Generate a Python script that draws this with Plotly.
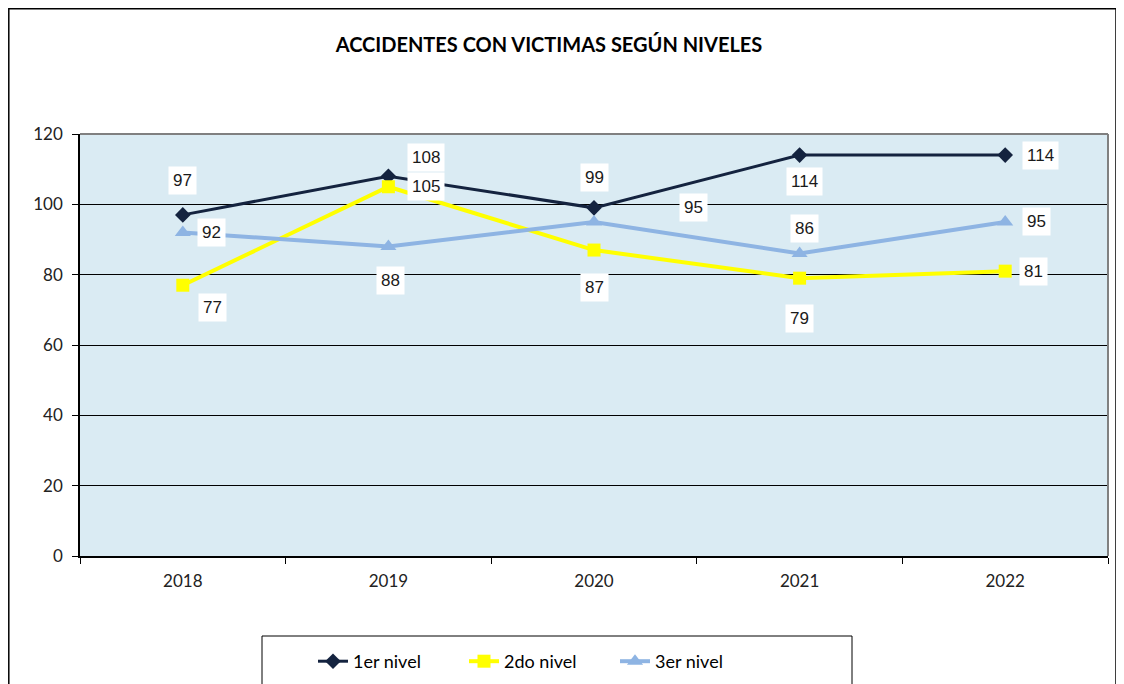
import plotly.graph_objects as go

years = ["2018", "2019", "2020", "2021", "2022"]
nivel1 = [97, 108, 99, 114, 114]
nivel2 = [77, 105, 87, 79, 81]
nivel3 = [92, 88, 95, 86, 95]
series_names = ["1er nivel", "2do nivel", "3er nivel"]
y_ticks = [0, 20, 40, 60, 80, 100, 120]

# label offsets (px) per point
off1 = [(0, 34), (38, 19), (0, 30), (5, -26), (35, 0)]
off2 = [(30, -22), (38, 0), (0, -37), (0, -40), (28, 0)]
off3 = [(29, 0), (2, -34), (99, 14), (5, 25), (31, 0)]

W, H = 1124, 684
OFF = 8  # page body margin
L, R, T, B = 80 - OFF, W - (1108 - OFF), 134 - OFF, H - (556 - OFF)

CAL = "Lato, Open Sans, sans-serif"

fig = go.Figure()
fig.add_trace(go.Scatter(x=years, y=nivel1, name=series_names[0], mode="lines+markers",
                         line=dict(color="#14233F", width=3),
                         marker=dict(symbol="diamond", size=12, color="#14233F")))
fig.add_trace(go.Scatter(x=years, y=nivel2, name=series_names[1], mode="lines+markers",
                         line=dict(color="#FFFF00", width=4),
                         marker=dict(symbol="square", size=13, color="#FFFF00")))
fig.add_trace(go.Scatter(x=years, y=nivel3, name=series_names[2], mode="lines+markers",
                         line=dict(color="#8EB4E3", width=4),
                         marker=dict(symbol="triangle-up", size=14, color="#8EB4E3")))

for vals, offs in ((nivel1, off1), (nivel2, off2), (nivel3, off3)):
    for i, (yv, (dx, dy)) in enumerate(zip(vals, offs)):
        fig.add_annotation(x=i, y=yv, text=str(yv), showarrow=False,
                           xshift=dx, yshift=dy, bgcolor="white",
                           borderpad=4,
                           font=dict(family="Liberation Sans, Arial, sans-serif", size=17, color="#1a1a1a"))

def px_x(p):
    return (p - OFF - L) / (W - L - R)

def px_y(p):
    return (H - B - (p - OFF)) / (H - T - B)

# outer chart border
fig.add_shape(type="rect", xref="paper", yref="paper",
              x0=px_x(OFF + 0.8), x1=px_x(1116), y0=px_y(710), y1=px_y(OFF + 0.8),
              line=dict(color="black", width=1.5), layer="below")
# legend box
fig.add_shape(type="rect", xref="paper", yref="paper",
              x0=px_x(262), x1=px_x(852), y0=px_y(710), y1=px_y(636),
              line=dict(color="black", width=1), layer="below")

fig.update_layout(
    width=W, height=H,
    margin=dict(l=L, r=R, t=T, b=B),
    paper_bgcolor="white",
    plot_bgcolor="#DAEBF3",
    title=dict(text="<b>ACCIDENTES CON VICTIMAS SEGÚN NIVELES</b>",
               x=(549 - OFF) / W, xanchor="center", y=1 - (45 - OFF) / H, yanchor="middle",
               xref="container", yref="container",
               font=dict(family=CAL, size=20, color="black")),
    showlegend=True,
    legend=dict(orientation="h", x=px_x(313), xanchor="left", y=px_y(643), yanchor="top",
                bgcolor="rgba(0,0,0,0)", borderwidth=0,
                entrywidth=106, entrywidthmode="pixels",
                font=dict(family=CAL, size=18, color="black")),
)
fig.update_xaxes(type="category", categoryorder="array", categoryarray=years,
                 range=[-0.5, len(years) - 0.5], autorange=False,
                 automargin=False, showgrid=False, showline=True,
                 linecolor="black", linewidth=1.5,
                 ticks="outside", tickson="boundaries", ticklen=6, tickcolor="black",
                 mirror=False, tickangle=0, ticklabelstandoff=9,
                 tickfont=dict(family=CAL, size=17, color="#222"))
fig.update_yaxes(range=[0, 120], tickvals=y_ticks, automargin=False, showgrid=True,
                 gridcolor="black", gridwidth=1,
                 showline=True, linecolor="black", linewidth=1.5,
                 ticks="outside", ticklen=6, tickcolor="black", zeroline=False,
                 ticklabelstandoff=6,
                 tickfont=dict(family=CAL, size=17, color="#222"))
# gray top/right border of plot area
fig.add_shape(type="line", xref="paper", yref="paper", x0=0, x1=1, y0=1, y1=1,
              line=dict(color="#808080", width=2))
fig.add_shape(type="line", xref="paper", yref="paper", x0=1, x1=1, y0=0, y1=1,
              line=dict(color="#808080", width=2))

fig.write_html("out.html")
